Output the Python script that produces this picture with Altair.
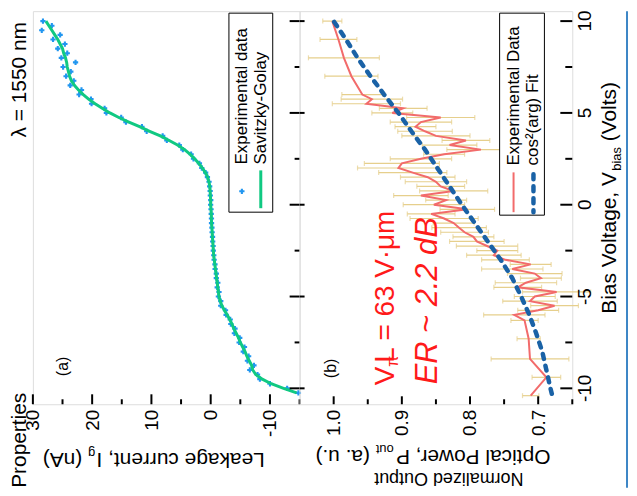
import altair as alt
import numpy as np
import pandas as pd

FONT = "Liberation Sans, Arial, Helvetica, sans-serif"

# ---------------- data ----------------
# panel (a): leakage current vs bias voltage
volt_a = list(np.round(np.arange(-10.25, 10.001, 0.25), 2))
leak_sg = [-14.5, -12.3, -10.2, -8.7, -7.6, -7.1, -6.9, -6.5, -6.1, -5.8,
           -5.4, -5.0, -4.7, -4.3, -3.9, -3.6, -3.2, -2.8, -2.3, -1.9,
           -1.6, -1.4, -1.3, -1.2, -1.1, -1.0, -0.9, -0.8, -0.7, -0.6,
           -0.5, -0.45, -0.4, -0.35, -0.3, -0.25, -0.2, -0.15, -0.12, -0.1,
           -0.05, 0.0, 0.0, 0.05, 0.1, 0.15, 0.3, 0.5, 0.9, 1.4,
           2.0, 2.7, 3.5, 4.4, 5.6, 7.0, 8.5, 10.3, 12.0, 13.8,
           15.5, 17.0, 18.3, 19.5, 20.6, 21.5, 22.3, 23.0, 23.5, 23.8,
           24.0, 24.2, 24.3, 24.5, 24.8, 25.0, 25.4, 25.8, 26.3, 26.8,
           27.3, 27.8]
leak_exp = [-14.8, -12.9, -10.0, -8.3, -7.9, -6.6, -7.3, -6.2, -6.4, -5.5,
            -5.7, -4.8, -4.9, -4.0, -4.1, -3.4, -3.3, -2.6, -2.5, -1.7,
            -1.7, -1.3, -1.4, -1.1, -1.2, -0.95, -0.95, -0.75, -0.72, -0.58,
            -0.52, -0.44, -0.41, -0.34, -0.31, -0.24, -0.21, -0.14, -0.13, -0.09,
            -0.06, 0.01, -0.01, 0.06, 0.09, 0.17, 0.28, 0.55, 0.85, 1.5,
            1.9, 2.9, 3.3, 4.7, 5.3, 7.4, 8.1, 10.8, 11.6, 14.3,
            15.1, 17.6, 17.9, 20.1, 20.2, 22.2, 21.8, 23.7, 23.1, 24.4,
            23.6, 24.9, 22.8, 25.2, 24.2, 25.8, 24.6, 26.6, 25.4, 28.5,
            26.8, 28.3]

# panel (b): normalized optical output vs bias voltage
volt_b = [10, 9, 8, 7, 6, 5.75, 5.5, 5.25, 5.0, 4.75, 4.5, 4.25, 4.0, 3.75, 3.5,
          3.25, 3.0, 2.75, 2.5, 2.25, 2.0, 1.75, 1.5, 1.25, 1.0, 0.75, 0.5, 0.25,
          0.0, -0.25, -0.5, -0.75, -1.0, -1.25, -1.5, -1.75, -2.0, -2.25, -2.5,
          -2.75, -3.0, -3.25, -3.5, -3.75, -4.0, -4.25, -4.5, -4.75, -5.0, -5.25,
          -5.5, -5.75, -6.0, -6.3, -7.3, -8.4, -9.4, -10.4]
pow_exp = [1.002, 0.993, 0.985, 0.974, 0.958,
           0.944, 0.952, 0.898, 0.914, 0.843, 0.872, 0.880, 0.866, 0.850, 0.806,
           0.830, 0.784, 0.838, 0.872, 0.900, 0.905, 0.884, 0.862, 0.850, 0.843,
           0.824, 0.872, 0.835, 0.853, 0.804, 0.857, 0.838, 0.824, 0.816, 0.808,
           0.795, 0.790, 0.775, 0.760, 0.765, 0.748, 0.711, 0.738, 0.705, 0.696,
           0.718, 0.730, 0.673, 0.705, 0.712, 0.676, 0.700, 0.735,
           0.720, 0.714, 0.712, 0.688, 0.711]
pow_err = [0.014, 0.027, 0.052, 0.039, 0.030,
           0.045, 0.050, 0.035, 0.030, 0.050, 0.045, 0.030, 0.040, 0.050, 0.035,
           0.040, 0.050, 0.030, 0.045, 0.055, 0.060, 0.050, 0.040, 0.045, 0.035,
           0.050, 0.040, 0.030, 0.045, 0.040, 0.035, 0.050, 0.030, 0.040, 0.035,
           0.030, 0.040, 0.045, 0.030, 0.040, 0.035, 0.030, 0.045, 0.040, 0.030,
           0.045, 0.035, 0.050, 0.030, 0.040, 0.035, 0.030, 0.045,
           0.020, 0.017, 0.057, 0.021, 0.012]
volt_fit = [-10.3, -10, -9, -8, -7, -6, -5, -4, -3, -2, -1, 0, 1, 2, 3, 4, 5, 6, 7, 8, 9, 10]
pow_fit = [0.680, 0.682, 0.688, 0.694, 0.703, 0.713, 0.725, 0.738, 0.755, 0.774, 0.793,
           0.812, 0.830, 0.848, 0.866, 0.886, 0.905, 0.926, 0.946, 0.965, 0.982, 1.0]

# axis ticks and tick labels
v_major = [-10, -5, 0, 5, 10]
v_labels = ["-10", "-5", "0", "5", "10"]
v_minor = [-7.5, -2.5, 2.5, 7.5]
i_major = [30, 20, 10, 0, -10]
i_minor = [25, 15, 5, -5, -15]
p_major = [1.0, 0.9, 0.8, 0.7]
p_minor = [0.95, 0.85, 0.75, 0.65]

# ---------------- styling ----------------
BLUE_PT = "#2196f0"
GREEN = "#10c982"
RED = "#f26b6b"
TAN = "#e6cf8c"
BLUE_FIT = "#1a62a6"
ANN_RED = "#ff1a1a"
FRAME_BLUE = "#3d86c6"

W_A, W_B, H = 268, 274, 395
V_SCALE = alt.Scale(domain=[-10.867, 10.542], nice=False, zero=False)
I_SCALE = alt.Scale(domain=[-15, 30], reverse=True, nice=False, zero=False)
P_SCALE = alt.Scale(domain=[0.65, 1.05], reverse=True, nice=False, zero=False)

AW = {" ": 278, "(": 333, ")": 333, ",": 278, ".": 278, "-": 333, "=": 584, "~": 584,
      "·": 278, "A": 667, "B": 667, "C": 722, "D": 722, "E": 667, "F": 611, "G": 778,
      "I": 278, "L": 556, "N": 722, "O": 778, "P": 667, "R": 722, "S": 667, "V": 667,
      "a": 556, "b": 556, "c": 500, "d": 556, "e": 556, "f": 278, "g": 556, "i": 222,
      "k": 500, "l": 222, "m": 833, "n": 556, "o": 556, "p": 556, "r": 333, "s": 500,
      "t": 278, "u": 556, "v": 500, "w": 722, "y": 500, "z": 500, "μ": 576, "π": 549}


def tw(s, fs):
    return sum(AW.get(c, 556) for c in s) * fs / 1000.0


ONE = pd.DataFrame({"k": [0]})


def label(text, x, y, size, angle=0, align="center", baseline="middle",
          color="black", italic=False):
    kw = dict(text=text, fontSize=size, angle=angle, align=align,
              baseline=baseline, color=color, font=FONT)
    if italic:
        kw["fontStyle"] = "italic"
    return alt.Chart(ONE).mark_text(**kw).encode(x=alt.value(x), y=alt.value(y))


def hticks(vals, scale, axis, length, bottom=H):
    d = pd.DataFrame({"t": vals})
    return alt.Chart(d).mark_rule(color="black", strokeWidth=2).encode(
        x=alt.X("t:Q", scale=scale, axis=axis),
        y=alt.value(bottom), y2=alt.value(bottom - length))


def vticks(vals, x0, x1):
    d = pd.DataFrame({"t": vals})
    return alt.Chart(d).mark_rule(color="black", strokeWidth=2).encode(
        y=alt.Y("t:Q", scale=V_SCALE, axis=None),
        x=alt.value(x0), x2=alt.value(x1))


# ---------------- panel (a) ----------------
df_a = pd.DataFrame({"V": volt_a, "I_exp": leak_exp, "I_sg": leak_sg})
AX_I = alt.Axis(values=i_major, labelExpr="datum.value + ''", labelAngle=270,
                labelAlign="right", labelBaseline="middle",
                ticks=False, domain=False, grid=False, title=None, labelPadding=5,
                labelFontSize=19, labelFont=FONT, labelColor="black")

pts_a = alt.Chart(df_a).mark_point(shape="cross", filled=True, size=28, color=BLUE_PT,
                                   opacity=1).encode(
    x=alt.X("I_exp:Q", scale=I_SCALE, axis=AX_I),
    y=alt.Y("V:Q", scale=V_SCALE, axis=None))
line_a = alt.Chart(df_a).mark_line(color=GREEN, strokeWidth=3).encode(
    x=alt.X("I_sg:Q", scale=I_SCALE, axis=AX_I),
    y=alt.Y("V:Q", scale=V_SCALE, axis=None),
    order=alt.Order("V:Q"))

fsT = 21
fsS = 13
a_layers = [pts_a, line_a,
            hticks(i_major, I_SCALE, AX_I, 10), hticks(i_minor, I_SCALE, AX_I, 5),
            vticks(v_major, W_A, W_A - 10), vticks(v_minor, W_A, W_A - 5)]

# legend (a)
a_layers.append(alt.Chart(ONE).mark_rect(fill="white", stroke="black", strokeWidth=1).encode(
    x=alt.value(197), x2=alt.value(241), y=alt.value(2), y2=alt.value(202)))
a_layers.append(label("Experimental data", 210, 154, 17, angle=270, align="left"))
a_layers.append(label("Savitzky-Golay", 229, 154, 17, angle=270, align="left"))
a_layers.append(alt.Chart(ONE).mark_point(shape="cross", filled=True, size=28,
                                          color=BLUE_PT, opacity=1).encode(
    x=alt.value(210), y=alt.value(181)))
a_layers.append(alt.Chart(ONE).mark_rule(color=GREEN, strokeWidth=3).encode(
    x=alt.value(229), y=alt.value(160), y2=alt.value(198)))
a_layers.append(label("(a)", 30, 357, 16, angle=270))

# bottom title (a), upside down
t1 = "Leakage current, I"
x0 = 233
a_layers.append(label(t1, x0, 450, fsT, angle=180, align="left"))
x1 = x0 - tw(t1, fsT) - 1
a_layers.append(label("g", x1, 444, fsS, angle=180, align="left"))
x2 = x1 - tw("g", fsS) - tw(" ", fsT)
a_layers.append(label("(nA)", x2, 450, fsT, angle=180, align="left"))

# page text on the left of the figure
a_layers.append(label("Properties", -7, 479, 21, angle=270, align="left", baseline="alphabetic"))
a_layers.append(label("λ = 1550 nm", -7, 127, 21, angle=270, align="left", baseline="alphabetic"))

panel_a = alt.layer(*a_layers).properties(width=W_A, height=H)

# ---------------- panel (b) ----------------
df_b = pd.DataFrame({"V": volt_b, "P": pow_exp, "E": pow_err})
df_fit = pd.DataFrame({"V": volt_fit, "P": pow_fit})
AX_P = alt.Axis(values=p_major, format=".1f", labelAngle=270, labelAlign="right",
                labelBaseline="middle", ticks=False, domain=False, grid=False, title=None,
                labelPadding=5, labelFontSize=19, labelFont=FONT, labelColor="black")

base_b = alt.Chart(df_b).transform_calculate(lo="datum.P - datum.E", hi="datum.P + datum.E")
err = base_b.mark_rule(color=TAN, strokeWidth=1.2).encode(
    x=alt.X("lo:Q", scale=P_SCALE, axis=AX_P), x2="hi:Q",
    y=alt.Y("V:Q", scale=V_SCALE, axis=None))
cap_lo = base_b.mark_tick(color=TAN, orient="vertical", size=5, thickness=1.2).encode(
    x=alt.X("lo:Q", scale=P_SCALE, axis=AX_P), y=alt.Y("V:Q", scale=V_SCALE, axis=None))
cap_hi = base_b.mark_tick(color=TAN, orient="vertical", size=5, thickness=1.2).encode(
    x=alt.X("hi:Q", scale=P_SCALE, axis=AX_P), y=alt.Y("V:Q", scale=V_SCALE, axis=None))
red = alt.Chart(df_b).mark_line(color=RED, strokeWidth=2).encode(
    x=alt.X("P:Q", scale=P_SCALE, axis=AX_P), y=alt.Y("V:Q", scale=V_SCALE, axis=None),
    order=alt.Order("V:Q"))
fit = alt.Chart(df_fit).mark_line(color=BLUE_FIT, strokeWidth=4.5, strokeDash=[5, 7],
                                  strokeCap="round").encode(
    x=alt.X("P:Q", scale=P_SCALE, axis=AX_P), y=alt.Y("V:Q", scale=V_SCALE, axis=None),
    order=alt.Order("V:Q"))

# right-hand voltage tick labels, placed by the voltage scale
df_vl = pd.DataFrame({"t": v_major, "lbl": v_labels})
vlab = alt.Chart(df_vl).mark_text(angle=270, align="center", baseline="middle", fontSize=19,
                                  font=FONT, color="black").encode(
    y=alt.Y("t:Q", scale=V_SCALE, axis=None), x=alt.value(W_B + 13), text="lbl:N")

b_layers = [err, cap_lo, cap_hi, red, fit,
            hticks(p_major, P_SCALE, AX_P, 8), hticks(p_minor, P_SCALE, AX_P, 5),
            vticks(v_major, W_B, W_B - 12), vticks(v_minor, W_B, W_B - 7),
            vticks(v_major, 0, 5), vlab]

# legend (b)
b_layers.append(alt.Chart(ONE).mark_rect(fill="white", stroke="black", strokeWidth=1).encode(
    x=alt.value(201), x2=alt.value(246), y=alt.value(2), y2=alt.value(205)))
b_layers.append(label("Experimental Data", 215, 155, 17, angle=270, align="left"))
b_layers.append(label("cos²(arg) Fit", 235, 155, 17, angle=270, align="left"))
b_layers.append(alt.Chart(ONE).mark_rule(color=RED, strokeWidth=2).encode(
    x=alt.value(215), y=alt.value(162), y2=alt.value(202)))
b_layers.append(alt.Chart(ONE).mark_rule(color=BLUE_FIT, strokeWidth=4.5, strokeDash=[5, 7],
                                         strokeCap="round").encode(
    x=alt.value(235), y=alt.value(164), y2=alt.value(202)))
b_layers.append(label("(b)", 32, 359, 16, angle=270))

# annotations
fsA = 28
ya = 376
b_layers.append(label("V", 87, ya, fsA, angle=270, align="left", color=ANN_RED))
ya2 = ya - tw("V", fsA)
b_layers.append(label("π", 94, ya2, 16, angle=270, align="left", color=ANN_RED))
b_layers.append(label("L = 63 V·μm", 87, ya2 - 4, fsA, angle=270, align="left", color=ANN_RED))
b_layers.append(label("ER ~ 2.2 dB", 129, 375, 31, angle=270, align="left", color=ANN_RED,
                      italic=True))

# bottom titles (b), upside down
t2 = "Optical Power, P"
x0 = 252
b_layers.append(label(t2, x0, 447, fsT, angle=180, align="left"))
x1 = x0 - tw(t2, fsT) - 1
b_layers.append(label("out", x1, 440, fsS, angle=180, align="left"))
x2 = x1 - tw("out", fsS) - tw(" ", fsT)
b_layers.append(label("(a. u.)", x2, 447, fsT, angle=180, align="left"))
b_layers.append(label("Normalized Output", 225, 469, 18, angle=180, align="left"))

# right title (bias voltage), reading bottom to top
t3 = "Bias Voltage, V"
y0 = 304
b_layers.append(label(t3, 312, y0, fsT, angle=270, align="left"))
y1 = y0 - tw(t3, fsT)
b_layers.append(label("bias", 319, y1, fsS, angle=270, align="left"))
y2 = y1 - tw("bias", fsS) - tw(" ", fsT)
b_layers.append(label("(Volts)", 312, y2, fsT, angle=270, align="left"))

# slide frame line on the right
b_layers.append(alt.Chart(ONE).mark_rule(color=FRAME_BLUE, strokeWidth=2).encode(
    x=alt.value(329), y=alt.value(0), y2=alt.value(479)))

panel_b = alt.layer(*b_layers).properties(width=W_B, height=H)

chart = alt.hconcat(panel_a, panel_b, spacing=0, bounds="flush").configure_view(
    stroke="black", strokeWidth=2, fill="white"
).configure(background="white", font=FONT).properties(
    padding={"left": 0, "top": 0, "right": 0, "bottom": 0})

chart.save("out.html", embed_options={"renderer": "svg", "actions": False})
